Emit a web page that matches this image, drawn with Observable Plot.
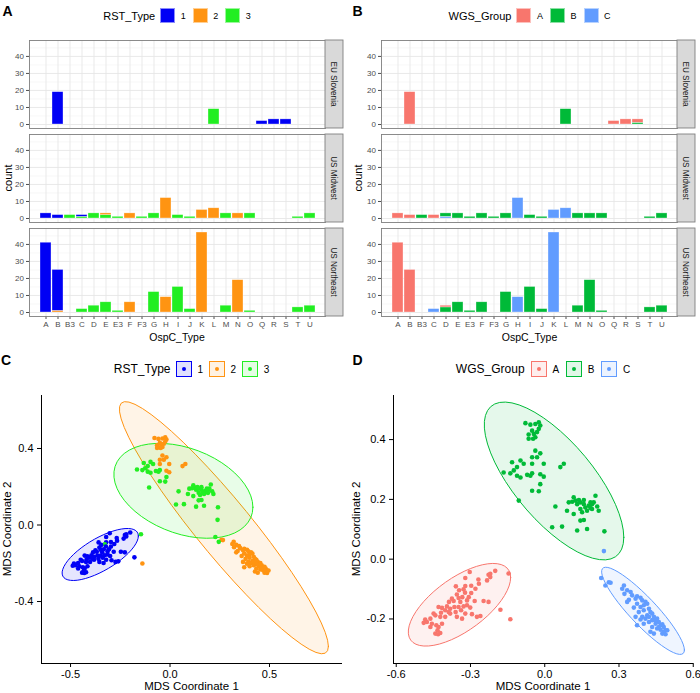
<!DOCTYPE html>
<html><head><meta charset="utf-8">
<script src="https://cdn.jsdelivr.net/npm/d3@7"></script>
<script src="https://cdn.jsdelivr.net/npm/@observablehq/plot@0.6"></script>
<style>
body{margin:0;background:#fff;font-family:"Liberation Sans",Arial,Helvetica,sans-serif;}
#fig{position:relative;width:700px;height:693px;overflow:hidden;background:#fff;}
#fig svg{position:absolute;}
</style></head><body><div id="fig"></div>
<script>
// ---------------- data ----------------
const ospcTypes = ["A","B","B3","C","D","E","E3","F","F3","G","H","I","J","K","L","M","N","O","Q","R","S","T","U"];
const regions = ["EU Slovenia","US Midwest","US Northeast"];
const rstTypes = ["1","2","3"];
const wgsGroups = ["A","B","C"];
const rstColors = ["#0000F5","#FF9412","#22EE22"];
const wgsColors = ["#F8766D","#00BA38","#619CFF"];
const countTicks = [0,10,20,30,40];
const countMinor = [5,15,25,35,45];

// [OspC type, RST type, count]
const rstSlovenia = [["B","1",19],["L","3",9],["Q","1",2],["R","1",3],["S","1",3]];
const rstMidwest = [["A","1",3],["B","1",2],["B3","3",2],["C","1",1],["C","3",1],["D","3",3],["E","2",1],["E","3",2],["E3","3",1],["F","2",3],["F3","3",1],["G","3",3],["H","2",12],["I","3",2],["J","3",1],["K","2",5],["L","2",6],["M","3",3],["N","2",3],["O","3",3],["T","3",1],["U","3",3]];
const rstNortheast = [["A","1",41],["B","1",24],["B","2",1],["C","3",2],["D","3",4],["E","3",6],["E3","3",1],["F","2",6],["G","3",12],["H","2",9],["I","3",15],["J","3",2],["K","2",47],["M","3",4],["N","2",19],["O","3",1],["T","3",3],["U","3",4]];
// [OspC type, WGS group, count]
const wgsSlovenia = [["B","A",19],["L","B",9],["Q","A",2],["R","A",3],["S","A",2],["S","B",1]];
const wgsMidwest = [["A","A",3],["B","A",2],["B3","B",2],["C","A",2],["D","B",2],["D","C",1],["E","B",3],["E3","B",1],["F","B",3],["F3","B",1],["G","B",3],["H","C",12],["I","B",2],["J","B",1],["K","C",5],["L","C",6],["M","B",3],["N","B",3],["O","B",3],["T","B",1],["U","B",3]];
const wgsNortheast = [["A","A",41],["B","A",25],["C","C",2],["D","A",1],["D","B",3],["E","B",6],["E3","B",1],["F","B",6],["G","B",12],["H","C",9],["I","B",15],["J","B",2],["K","C",47],["M","B",4],["N","B",19],["O","B",1],["T","B",3],["U","B",4]];

// MDS points [coord1, coord2, RST type] per WGS group
const groupA = [[-0.303,-0.043,"1"],[-0.200,-0.039,"1"],[-0.146,-0.048,"3"],[-0.227,-0.052,"1"],[-0.220,-0.060,"1"],[-0.268,-0.068,"1"],[-0.321,-0.063,"1"],[-0.359,-0.091,"1"],[-0.321,-0.090,"1"],[-0.297,-0.089,"1"],[-0.266,-0.082,"1"],[-0.280,-0.099,"1"],[-0.328,-0.101,"3"],[-0.346,-0.104,"1"],[-0.355,-0.118,"1"],[-0.322,-0.112,"1"],[-0.297,-0.113,"1"],[-0.333,-0.127,"1"],[-0.375,-0.132,"1"],[-0.387,-0.143,"1"],[-0.368,-0.140,"1"],[-0.348,-0.130,"1"],[-0.307,-0.127,"1"],[-0.247,-0.140,"1"],[-0.227,-0.143,"1"],[-0.283,-0.140,"1"],[-0.341,-0.143,"1"],[-0.429,-0.160,"1"],[-0.415,-0.163,"1"],[-0.395,-0.158,"1"],[-0.382,-0.166,"1"],[-0.365,-0.160,"1"],[-0.402,-0.171,"1"],[-0.388,-0.177,"1"],[-0.348,-0.160,"1"],[-0.328,-0.158,"1"],[-0.314,-0.154,"1"],[-0.301,-0.162,"1"],[-0.338,-0.171,"1"],[-0.360,-0.177,"1"],[-0.321,-0.182,"1"],[-0.294,-0.184,"1"],[-0.274,-0.193,"1"],[-0.260,-0.190,"1"],[-0.179,-0.169,"1"],[-0.139,-0.201,"2"],[-0.483,-0.202,"1"],[-0.462,-0.199,"1"],[-0.442,-0.188,"1"],[-0.449,-0.182,"1"],[-0.422,-0.193,"1"],[-0.476,-0.210,"1"],[-0.456,-0.216,"1"],[-0.438,-0.221,"1"],[-0.429,-0.227,"1"],[-0.433,-0.238,"1"],[-0.442,-0.249,"1"],[-0.431,-0.251,"1"],[-0.422,-0.247,"1"],[-0.462,-0.227,"1"],[-0.415,-0.216,"1"],[-0.402,-0.193,"1"],[-0.489,-0.213,"1"],[-0.382,-0.182,"1"],[-0.355,-0.193,"1"],[-0.334,-0.199,"1"],[-0.419,-0.179,"1"],[-0.220,-0.049,"1"],[-0.233,-0.071,"1"],[-0.314,-0.138,"1"]];
const groupB = [[-0.078,0.455,"2"],[-0.058,0.450,"2"],[-0.038,0.452,"2"],[-0.024,0.458,"2"],[-0.018,0.447,"2"],[-0.024,0.436,"2"],[-0.031,0.425,"2"],[-0.044,0.419,"2"],[-0.051,0.430,"2"],[-0.065,0.417,"2"],[-0.038,0.408,"2"],[-0.047,0.403,"2"],[-0.065,0.403,"2"],[-0.038,0.363,"2"],[-0.018,0.354,"2"],[-0.031,0.341,"2"],[-0.004,0.319,"2"],[-0.051,0.319,"2"],[0.077,0.319,"2"],[0.063,0.308,"2"],[-0.051,0.341,"2"],[-0.018,0.284,"2"],[-0.004,0.276,"2"],
[-0.085,0.319,"3"],[-0.112,0.308,"3"],[-0.125,0.297,"3"],[-0.132,0.324,"3"],[-0.098,0.330,"3"],[-0.166,0.290,"3"],[-0.139,0.287,"3"],[-0.112,0.279,"3"],[-0.098,0.273,"3"],[-0.071,0.282,"3"],[-0.051,0.287,"3"],[-0.058,0.279,"3"],[-0.018,0.251,"3"],[-0.051,0.229,"3"],[-0.024,0.227,"3"],[-0.105,0.196,"3"],
[0.097,0.190,"3"],[0.117,0.207,"3"],[0.124,0.196,"3"],[0.131,0.184,"3"],[0.144,0.190,"3"],[0.158,0.184,"3"],[0.164,0.173,"3"],[0.178,0.179,"3"],[0.185,0.171,"3"],[0.191,0.184,"3"],[0.198,0.190,"3"],[0.205,0.212,"3"],[0.212,0.176,"3"],[0.218,0.162,"3"],[0.144,0.168,"3"],[0.151,0.157,"3"],[0.171,0.162,"3"],[0.090,0.162,"3"],[0.043,0.176,"3"],[0.117,0.151,"3"],[0.158,0.131,"3"],[0.144,0.129,"3"],[0.131,0.096,"3"],[0.171,0.101,"3"],[0.070,0.109,"3"],[0.030,0.107,"3"],[0.241,0.093,"3"],[0.158,0.198,"3"],[0.138,0.198,"3"],[0.111,0.192,"3"],[0.185,0.190,"3"],[0.191,0.168,"3"]];
const groupC = [[0.228,-0.063,"3"],[0.259,-0.077,"2"],[0.245,-0.088,"3"],[0.239,0.027,"3"],[0.266,-0.079,"2"],[0.320,-0.088,"2"],[0.313,-0.099,"2"],[0.333,-0.104,"2"],[0.322,-0.116,"2"],[0.347,-0.110,"2"],[0.353,-0.121,"2"],[0.373,-0.124,"2"],[0.387,-0.129,"2"],[0.367,-0.132,"2"],[0.394,-0.138,"2"],[0.407,-0.143,"2"],[0.414,-0.149,"2"],[0.400,-0.154,"2"],[0.387,-0.160,"2"],[0.373,-0.149,"2"],[0.340,-0.136,"2"],[0.333,-0.143,"2"],[0.400,-0.171,"2"],[0.421,-0.166,"2"],[0.427,-0.177,"2"],[0.434,-0.182,"2"],[0.414,-0.188,"2"],[0.394,-0.193,"2"],[0.407,-0.199,"2"],[0.441,-0.193,"2"],[0.454,-0.199,"2"],[0.461,-0.210,"2"],[0.448,-0.216,"2"],[0.468,-0.221,"2"],[0.481,-0.227,"2"],[0.488,-0.238,"2"],[0.475,-0.249,"2"],[0.454,-0.232,"2"],[0.434,-0.227,"2"],[0.421,-0.210,"2"],[0.400,-0.216,"2"],[0.373,-0.221,"2"],[0.367,-0.193,"2"],[0.427,-0.243,"2"],[0.441,-0.249,"2"],[0.481,-0.243,"2"],[0.488,-0.251,"2"],[0.468,-0.236,"2"],[0.387,-0.202,"2"],[0.448,-0.204,"2"],[0.380,-0.177,"2"],[0.360,-0.162,"2"],[0.421,-0.193,"2"],[0.434,-0.204,"2"],[0.475,-0.218,"2"],[0.461,-0.227,"2"],[0.495,-0.238,"2"]];

// axis settings
const cXDomain = [-0.646, 0.867], cYDomain = [-0.724, 0.677];
const cXTicks = [-0.5, 0, 0.5], cYTicks = [-0.4, 0, 0.4];
const dXDomain = [-0.611, 0.601], dYDomain = [-0.349, 0.5475];
const dXTicks = [-0.6, -0.3, 0, 0.3, 0.6], dYTicks = [-0.2, 0, 0.2, 0.4];

// ---------------- build ----------------
const FONT = '"Liberation Sans", Arial, Helvetica, sans-serif';
const fig = document.getElementById("fig");

function txt(str, x, y, size, o = {}) {
  const d = document.createElement("div");
  d.textContent = str;
  Object.assign(d.style, {position: "absolute", left: x + "px", top: y + "px", fontSize: size + "px",
    fontWeight: o.bold ? "bold" : "normal", color: o.color || "#000", whiteSpace: "nowrap", lineHeight: "1",
    transform: `translate(-50%,-50%) rotate(${o.rot || 0}deg)`});
  fig.appendChild(d);
}

function legend(o) {
  const c = document.createElement("div");
  Object.assign(c.style, {position: "absolute", left: o.left + "px", width: o.width + "px", top: (o.cy - 10) + "px",
    height: "20px", display: "flex", alignItems: "center", justifyContent: "center", color: "#000"});
  const t = document.createElement("span");
  t.textContent = o.title;
  Object.assign(t.style, {fontSize: o.titleSize + "px", marginRight: o.titleGap + "px", whiteSpace: "nowrap"});
  c.appendChild(t);
  o.labels.forEach((lab, i) => {
    const col = o.colors[i];
    const k = document.createElement("div");
    k.style.boxSizing = "border-box";
    if (o.kind === "bar") {
      Object.assign(k.style, {width: "15px", height: "15px", background: col, border: "1px solid rgba(255,255,255,0.55)"});
    } else {
      const fillc = d3.color(col); fillc.opacity = 0.12;
      Object.assign(k.style, {width: "16px", height: "16px", background: fillc.toString(), border: "1.3px solid " + col,
        display: "flex", alignItems: "center", justifyContent: "center"});
      const dot = document.createElement("div");
      Object.assign(dot.style, {width: "4px", height: "4px", borderRadius: "50%", background: col});
      k.appendChild(dot);
    }
    c.appendChild(k);
    const l = document.createElement("span");
    l.textContent = lab;
    Object.assign(l.style, {fontSize: o.labelSize + "px", marginLeft: o.labelGap + "px",
      marginRight: (i < o.labels.length - 1 ? o.itemGap : 0) + "px"});
    c.appendChild(l);
  });
  fig.appendChild(c);
}

function toRows(list, region) {
  return list.map(([ospc, group, count]) => ({region, ospc, group, count}));
}

function barPanel(left, top, rows, groups, colors) {
  const order = new Map(groups.map((g, i) => [g, i]));
  const sorted = rows.slice().sort((a, b) => order.get(b.group) - order.get(a.group));
  const W = 350, H = 320, mL = 29, mR = 25, mT = 10, mB = 34;
  const plot = Plot.plot({
    width: W, height: H, marginLeft: mL, marginRight: mR, marginTop: mT, marginBottom: mB,
    style: {fontFamily: FONT, fontSize: "8px", color: "#4d4d4d", background: "transparent"},
    x: {domain: ospcTypes, paddingInner: 0.1, paddingOuter: 0.15, tickSize: 3, tickPadding: 2, label: null},
    y: {domain: [-2.35, 49.35], ticks: countTicks, tickSize: 3, tickPadding: 2.5, label: null},
    fy: {domain: regions, paddingInner: 0.064, paddingOuter: 0, axis: null, label: null, round: false},
    color: {domain: groups, range: colors},
    marks: [
      Plot.ruleY(countMinor, {stroke: "#f2f2f2", strokeWidth: 0.6}),
      Plot.ruleY(countTicks, {stroke: "#e6e6e6", strokeWidth: 0.9}),
      Plot.gridX({stroke: "#e6e6e6", strokeOpacity: 1, strokeWidth: 0.9}),
      Plot.barY(sorted, {x: "ospc", y: "count", fy: "region", fill: "group", stroke: "#ffffff", strokeOpacity: 0.55, strokeWidth: 0.6, inset: 0}),
      Plot.frame({stroke: "#7f7f7f", strokeWidth: 0.9})
    ]
  });
  plot.style.left = left + "px";
  plot.style.top = top + "px";
  const svg = d3.select(plot);
  const fy = plot.scale("fy");
  const bw = fy.bandwidth;
  regions.forEach(r => {
    const y0 = fy.apply(r);
    svg.append("rect").attr("x", W - mR).attr("y", y0).attr("width", 18).attr("height", bw)
      .attr("fill", "#d9d9d9").attr("stroke", "#7f7f7f").attr("stroke-width", 0.9);
    svg.append("text").attr("transform", `translate(${W - mR + 9},${y0 + bw / 2}) rotate(90)`)
      .attr("text-anchor", "middle").attr("dy", "0.35em").attr("font-size", 8.2).attr("fill", "#1a1a1a")
      .attr("font-family", FONT).text(r);
  });
  fig.appendChild(plot);
}

function ellipse(pts) {
  const n = pts.length;
  const mx = d3.mean(pts, p => p.x), my = d3.mean(pts, p => p.y);
  let sxx = 0, sxy = 0, syy = 0;
  pts.forEach(p => { const dx = p.x - mx, dy = p.y - my; sxx += dx * dx; sxy += dx * dy; syy += dy * dy; });
  sxx /= (n - 1); sxy /= (n - 1); syy /= (n - 1);
  const dfd = n - 1;
  const q = (dfd / 2) * (Math.pow(0.05, -2 / dfd) - 1); // qf(0.95, 2, dfd)
  const rad = Math.sqrt(2 * q);
  const R11 = Math.sqrt(sxx), R12 = sxy / R11, R22 = Math.sqrt(Math.max(syy - R12 * R12, 0));
  const out = [];
  for (let i = 0; i <= 51; i++) {
    const t = i * 2 * Math.PI / 51, c = Math.cos(t), s = Math.sin(t);
    out.push({x: mx + rad * c * R11, y: my + rad * (c * R12 + s * R22)});
  }
  return out;
}

function scatterPanel(o) {
  const W = 350, H = 313;
  const marks = [];
  o.groups.forEach((g, i) => {
    const pts = o.points.filter(p => p[o.key] === g);
    marks.push(Plot.line(ellipse(pts), {x: "x", y: "y", curve: "linear-closed", stroke: o.colors[i],
      fill: o.colors[i], fillOpacity: 0.1, strokeWidth: 1}));
  });
  marks.push(Plot.dot(o.points, {x: "x", y: "y", fill: o.key, r: 2.3}));
  marks.push(Plot.ruleX([o.xDomain[0]], {stroke: "#000", strokeWidth: 1}));
  marks.push(Plot.ruleY([o.yDomain[0]], {stroke: "#000", strokeWidth: 1}));
  const plot = Plot.plot({
    width: W, height: H, marginLeft: o.mL, marginRight: o.mR, marginTop: 15, marginBottom: 30,
    style: {fontFamily: FONT, fontSize: "11px", color: "#000", background: "transparent"},
    x: {domain: o.xDomain, ticks: o.xTicks, tickFormat: d => d.toFixed(1), tickSize: 4, tickPadding: 3, label: null},
    y: {domain: o.yDomain, ticks: o.yTicks, tickFormat: d => d.toFixed(1), tickSize: 4, tickPadding: 4, label: null},
    color: {domain: o.groups, range: o.colors},
    marks
  });
  plot.style.left = o.left + "px";
  plot.style.top = o.top + "px";
  fig.appendChild(plot);
}

// points table
const points = [];
[[groupA, "A"], [groupB, "B"], [groupC, "C"]].forEach(([arr, g]) =>
  arr.forEach(([x, y, rst]) => points.push({x, y, rst, wgs: g})));

const rstRows = [...toRows(rstSlovenia, regions[0]), ...toRows(rstMidwest, regions[1]), ...toRows(rstNortheast, regions[2])];
const wgsRows = [...toRows(wgsSlovenia, regions[0]), ...toRows(wgsMidwest, regions[1]), ...toRows(wgsNortheast, regions[2])];

// Panel A
barPanel(0, 30, rstRows, rstTypes, rstColors);
legend({left: 29, width: 296, cy: 15.5, title: "RST_Type", labels: rstTypes, colors: rstColors, kind: "bar",
  titleSize: 11, labelSize: 9, titleGap: 5, labelGap: 5.5, itemGap: 7});
txt("count", 8, 178, 11, {rot: -90});
txt("OspC_Type", 177, 337, 10.5);
txt("A", 7.5, 10.5, 14, {bold: true});

// Panel B
barPanel(352, 30, wgsRows, wgsGroups, wgsColors);
legend({left: 381, width: 297, cy: 15.5, title: "WGS_Group", labels: wgsGroups, colors: wgsColors, kind: "bar",
  titleSize: 11, labelSize: 9, titleGap: 5, labelGap: 5.5, itemGap: 7});
txt("count", 358, 178, 11, {rot: -90});
txt("OspC_Type", 529.5, 337, 10.5);
txt("B", 357.5, 10.5, 14, {bold: true});

// Panel C
scatterPanel({left: 0, top: 380, mL: 41, mR: 8, points, key: "rst", groups: rstTypes, colors: rstColors,
  xDomain: cXDomain, yDomain: cYDomain, xTicks: cXTicks, yTicks: cYTicks});
legend({left: 41, width: 301, cy: 369, title: "RST_Type", labels: rstTypes, colors: rstColors, kind: "ellipse",
  titleSize: 12, labelSize: 10, titleGap: 5, labelGap: 6, itemGap: 5.5});
txt("MDS Coordinate 1", 191.5, 687, 11.5);
txt("MDS Coordinate 2", 8, 529, 11.5, {rot: -90});
txt("C", 6, 359.5, 14, {bold: true});

// Panel D
scatterPanel({left: 350, top: 380, mL: 43, mR: 7, points, key: "wgs", groups: wgsGroups, colors: wgsColors,
  xDomain: dXDomain, yDomain: dYDomain, xTicks: dXTicks, yTicks: dYTicks});
legend({left: 393, width: 300, cy: 369, title: "WGS_Group", labels: wgsGroups, colors: wgsColors, kind: "ellipse",
  titleSize: 12, labelSize: 10, titleGap: 6, labelGap: 6, itemGap: 6.5});
txt("MDS Coordinate 1", 543, 687, 11.5);
txt("MDS Coordinate 2", 357, 529, 11.5, {rot: -90});
txt("D", 357.5, 359.5, 14, {bold: true});
</script></body></html>
